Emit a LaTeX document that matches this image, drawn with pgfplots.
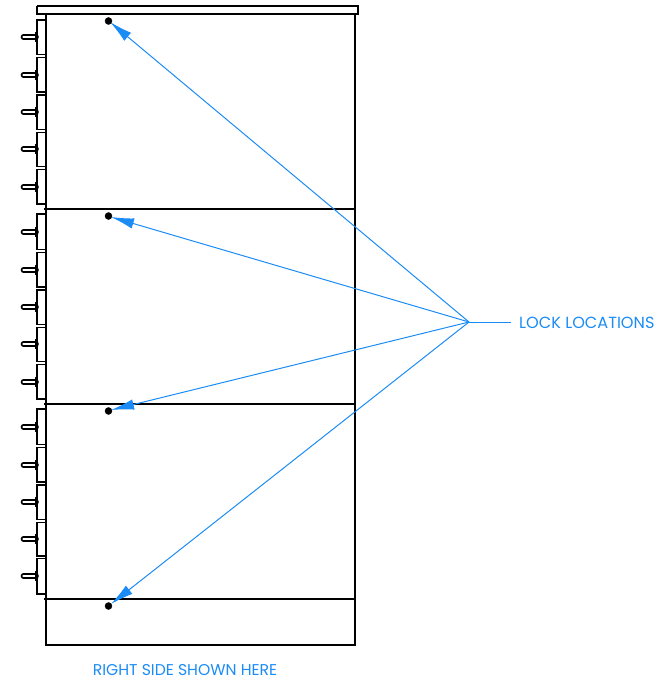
\documentclass[border=0pt]{standalone}
\usepackage{fontspec}
\setmainfont{Poppins}
\usepackage{pgfplots}
\pgfplotsset{compat=1.18}
\usetikzlibrary{arrows.meta}
\definecolor{leader}{HTML}{1B8CF5}

% one side bracket: top y, bottom y
\newcommand{\bracket}[2]{\addplot[black, line width=1.6bp] coordinates {(46,#1) (37,#1) (37,#2) (46,#2)};}
% one pin with its thick root, root top y, pin y, root bottom y
\newcommand{\pin}[3]{%
  \addplot[black, line width=1.5bp, double=white, double distance=2.6bp, line cap=round] coordinates {(23.5,#2) (36,#2)};
  \addplot[black, line width=2.2bp] coordinates {(36.5,#1) (36.5,#3)};}

\begin{document}
\begin{tikzpicture}
\begin{axis}[
    name=sheet,
    scale only axis, width=672bp, height=683bp,
    xmin=0, xmax=672, ymin=0, ymax=683, y dir=reverse,
    hide axis, clip=false]

  % cap and cabinet
  \addplot[black, line width=2.5bp] coordinates {(37,6) (358,6) (358,14) (37,14) (37,6)};
  \addplot[black, line width=2.1bp] coordinates {(46,14) (46,645) (355,645) (355,14)};
  \addplot[black, line width=2.1bp] coordinates {(44,209) (355,209)};
  \addplot[black, line width=2.1bp] coordinates {(44,404) (355,404)};
  \addplot[black, line width=2.1bp] coordinates {(44,599) (355,599)};

  % upper panel
  \bracket{20}{54.5}\bracket{57.5}{92}\bracket{95}{129.5}\bracket{132.5}{166.5}\bracket{169.5}{204}
  \pin{32}{37}{42}\pin{70}{75}{80}\pin{107}{112}{117}\pin{144}{149}{154}\pin{182}{187}{192}
  % middle panel
  \bracket{214}{249.5}\bracket{252.5}{287}\bracket{290}{324.5}\bracket{327.5}{361.5}\bracket{364.5}{399}
  \pin{227}{232}{237}\pin{265}{270}{275}\pin{302}{307}{312}\pin{339}{344}{349}\pin{377}{382}{387}
  % lower panel
  \bracket{409}{444.5}\bracket{447.5}{482}\bracket{485}{519.5}\bracket{522.5}{556}\bracket{558.5}{594}
  \pin{422}{427}{432}\pin{460}{465}{470}\pin{497}{502}{507}\pin{534}{539}{544}\pin{571}{576}{581}

  % locks
  \addplot[only marks, mark=*, mark size=3.5bp, mark options={fill=black, draw=black}]
    coordinates {(108.5,21) (108.5,216) (108.5,411) (108.5,606)};

  % leaders
  \addplot[leader, line width=1bp] coordinates {(469,322) (511,322)};
  \addplot[leader, line width=1bp, -{Latex[length=23bp, width=10.5bp]}] coordinates {(469,322) (110,22)};
  \addplot[leader, line width=1bp, -{Latex[length=23bp, width=10.5bp]}] coordinates {(469,322) (111,217)};
  \addplot[leader, line width=1bp, -{Latex[length=23bp, width=10.5bp]}] coordinates {(469,322) (111,410)};
  \addplot[leader, line width=1bp, -{Latex[length=23bp, width=10.5bp]}] coordinates {(469,322) (111,604)};

  \node[leader, anchor=west, inner sep=0pt, font=\fontsize{16.2}{18}\selectfont] at (axis cs:519,322.5) {LOCK LOCATIONS};
  \node[leader, anchor=center, inner sep=0pt, font=\fontsize{15.7}{18}\selectfont] at (axis cs:185,670.5) {RIGHT SIDE SHOWN HERE};
\end{axis}
\useasboundingbox (sheet.south west) rectangle (sheet.north east);
\end{tikzpicture}
\end{document}
